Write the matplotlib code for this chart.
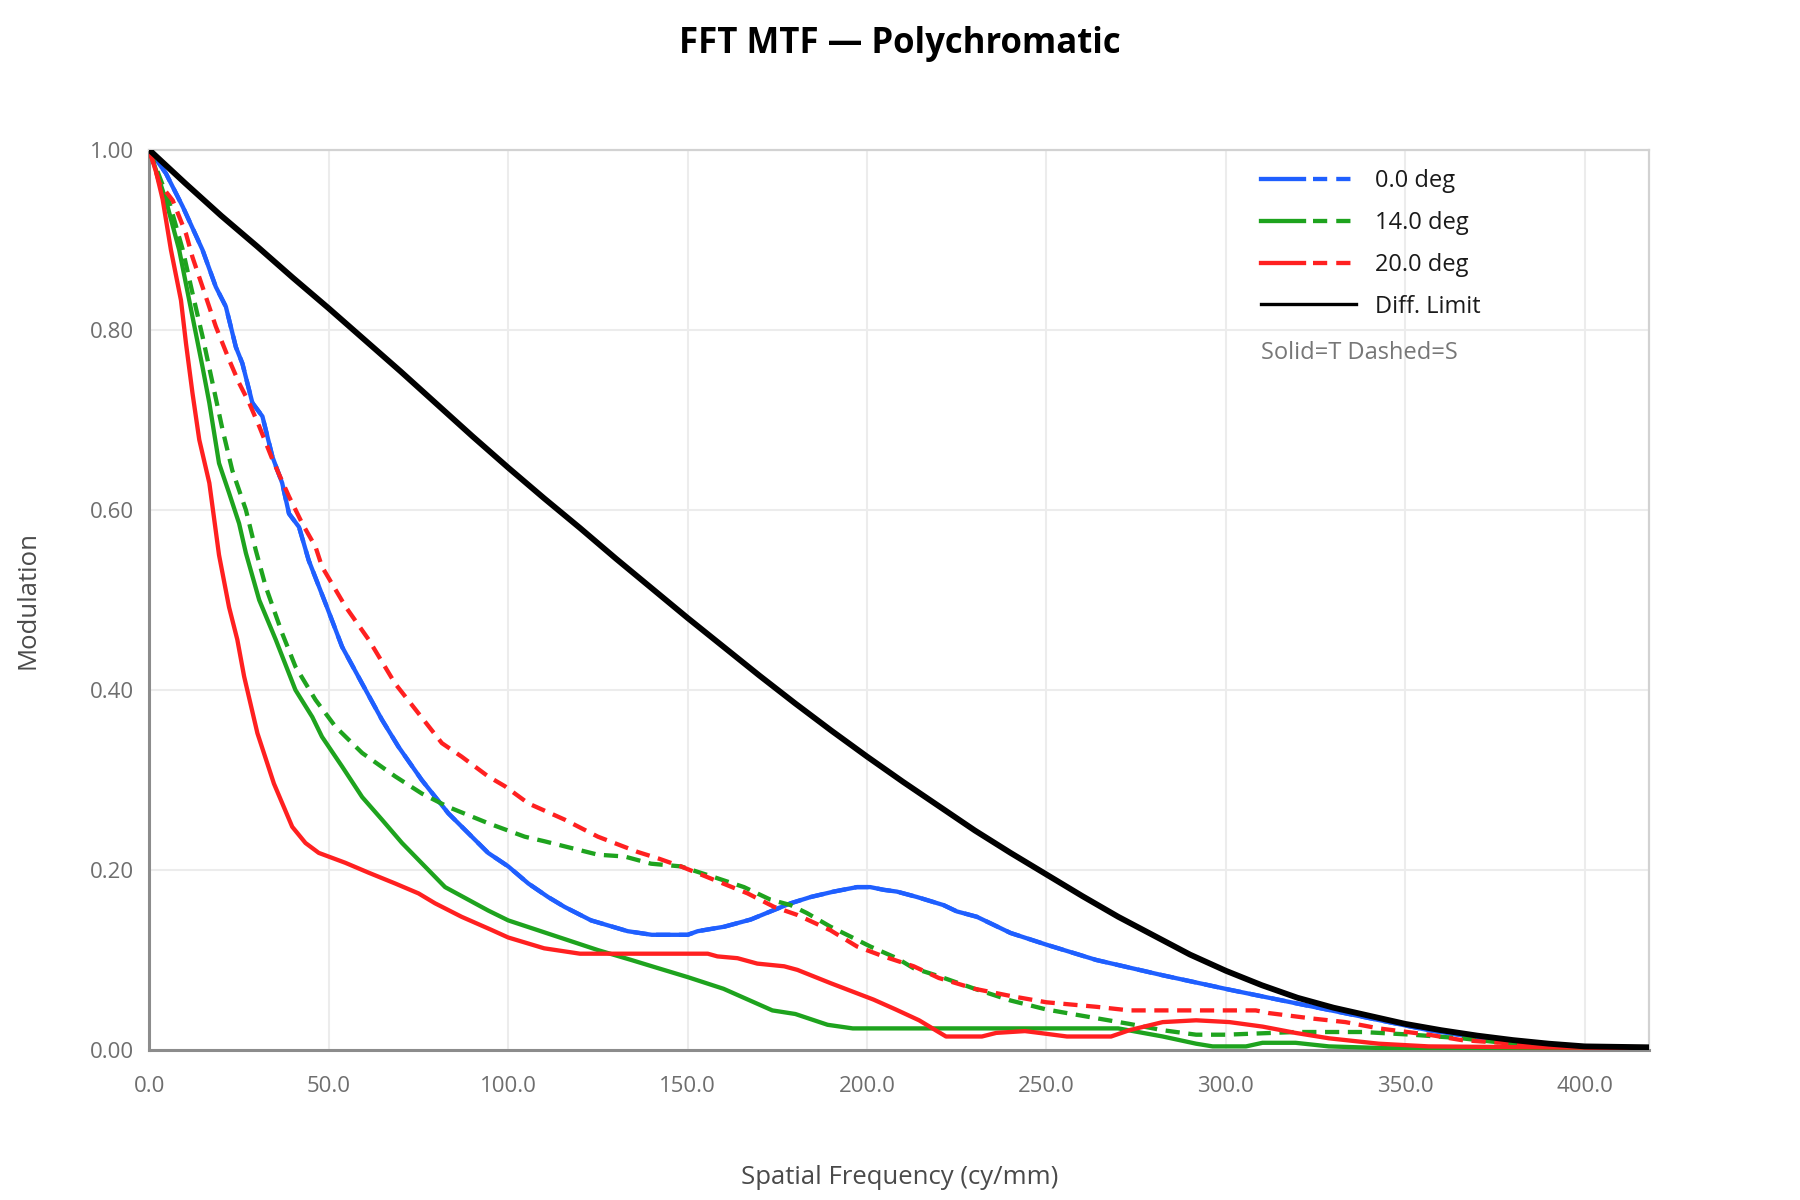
import matplotlib
matplotlib.use("Agg")
import matplotlib.pyplot as plt
from matplotlib.lines import Line2D
from matplotlib.legend_handler import HandlerTuple

plt.rcParams['font.family'] = ['Open Sans', 'DejaVu Sans']

# ---------------- data ----------------
diff_f = [0, 10, 20, 30, 40, 50, 60, 70, 80, 90, 100, 110, 120, 130, 140, 150, 160, 170,
          180, 190, 200, 210, 220, 230, 240, 250, 260, 270, 280, 290, 300, 310, 320, 330,
          340, 350, 360, 370, 380, 390, 400, 418]
diff_v = [1.0, 0.963, 0.927, 0.893, 0.858, 0.824, 0.789, 0.754, 0.718, 0.682, 0.647, 0.613,
          0.580, 0.546, 0.513, 0.480, 0.448, 0.416, 0.385, 0.355, 0.326, 0.298, 0.271, 0.244,
          0.219, 0.195, 0.171, 0.148, 0.127, 0.106, 0.088, 0.072, 0.058, 0.047, 0.038, 0.029,
          0.022, 0.016, 0.011, 0.007, 0.004, 0.003]

t00_f = [0, 4.6, 9.3, 14.8, 18.5, 21.3, 24.1, 25.9, 28.7, 31.5, 34.3, 37, 38.9, 41.7, 44.4,
         49.1, 53.7, 59.3, 64.8, 69.4, 75.9, 83.3, 94.4, 100, 105.6, 111.1, 115.7, 123.1,
         133.3, 140, 150, 152.8, 160.2, 167.6, 173.1, 178.7, 184.3, 190.7, 197.2, 200.9,
         204.6, 208.3, 213.9, 221.3, 225, 230.6, 240, 250, 263.9, 282.4, 301, 319.4, 338,
         356.5, 375, 388, 400, 418]
t00_v = [1.0, 0.974, 0.937, 0.889, 0.848, 0.826, 0.781, 0.763, 0.719, 0.704, 0.659, 0.630,
         0.596, 0.581, 0.544, 0.496, 0.448, 0.407, 0.367, 0.337, 0.300, 0.263, 0.219, 0.204,
         0.185, 0.170, 0.159, 0.144, 0.132, 0.128, 0.128, 0.132, 0.137, 0.145, 0.154, 0.163,
         0.170, 0.176, 0.181, 0.181, 0.178, 0.176, 0.170, 0.161, 0.154, 0.148, 0.130, 0.117,
         0.100, 0.083, 0.067, 0.052, 0.037, 0.022, 0.011, 0.004, 0.002, 0.001]
# on axis: sagittal coincides with tangential
s00_f = t00_f
s00_v = t00_v

t14_f = [0, 4.6, 8.3, 11.1, 14.8, 16.7, 19.4, 22.2, 25, 26.9, 30.6, 35.2, 40.7, 45.4, 48.1,
         53.7, 59.3, 64.8, 70.4, 82.4, 94.4, 100, 125, 134.3, 141.7, 150, 160, 173.6, 180,
         189, 196, 270, 282.4, 291.7, 296.3, 305.6, 310.2, 319.4, 328.7, 345, 418]
t14_v = [1.0, 0.944, 0.889, 0.833, 0.759, 0.719, 0.652, 0.619, 0.585, 0.552, 0.500, 0.456,
         0.400, 0.370, 0.348, 0.315, 0.281, 0.256, 0.230, 0.181, 0.155, 0.144, 0.111, 0.100,
         0.091, 0.081, 0.068, 0.044, 0.040, 0.028, 0.024, 0.024, 0.015, 0.007, 0.004, 0.004,
         0.008, 0.008, 0.004, 0.002, 0.001]

s14_f = [0, 5.6, 9.3, 12, 14.8, 17.6, 20.4, 23.1, 26.9, 29.6, 32.4, 37, 40.7, 46.3, 51.9,
         59.3, 68.5, 75.9, 83.3, 94.4, 104.6, 110, 125, 132.4, 139.8, 148.1, 157.4, 165.7,
         173.1, 178.7, 183.3, 189.8, 195.4, 200.9, 208.3, 212.9, 220, 230, 240, 250, 260,
         273.1, 282.4, 291.7, 300, 319.4, 338, 351.9, 365.7, 379.6, 400, 418]
s14_v = [1.0, 0.941, 0.889, 0.841, 0.793, 0.741, 0.689, 0.644, 0.600, 0.556, 0.515, 0.463,
         0.426, 0.389, 0.359, 0.330, 0.304, 0.285, 0.270, 0.252, 0.237, 0.232, 0.217, 0.215,
         0.207, 0.204, 0.192, 0.181, 0.167, 0.161, 0.152, 0.137, 0.126, 0.115, 0.102, 0.091,
         0.082, 0.068, 0.055, 0.045, 0.038, 0.029, 0.022, 0.017, 0.017, 0.020, 0.020, 0.017,
         0.013, 0.007, 0.003, 0.002]

t20_f = [0, 1.9, 3.7, 6, 8.8, 10.2, 12, 13.9, 16.7, 19.4, 22.2, 24.5, 26.4, 30.1, 34.7,
         39.8, 43.5, 47.2, 54.6, 61.1, 68.5, 75, 79.6, 87, 95, 100, 110, 120, 155.6, 158.3,
         163.9, 169.4, 176.9, 180.6, 190, 201.8, 208, 214.5, 222, 232, 236, 244, 248, 255.7,
         268, 273.1, 282.4, 291.7, 301, 310.2, 319.4, 328.7, 342.6, 356.5, 418]
t20_v = [1.0, 0.975, 0.945, 0.889, 0.833, 0.785, 0.730, 0.678, 0.630, 0.550, 0.492, 0.456,
         0.415, 0.352, 0.296, 0.248, 0.230, 0.219, 0.208, 0.197, 0.185, 0.174, 0.163, 0.148,
         0.134, 0.125, 0.113, 0.107, 0.107, 0.104, 0.102, 0.096, 0.093, 0.089, 0.074, 0.056,
         0.045, 0.033, 0.015, 0.015, 0.019, 0.021, 0.019, 0.015, 0.015, 0.022, 0.031, 0.033,
         0.031, 0.026, 0.019, 0.013, 0.007, 0.004, 0.002]

s20_f = [0, 2.8, 6.5, 10.2, 12, 14.8, 18.5, 22.2, 25, 27.8, 30.6, 34.3, 38.9, 42.6, 46.3,
         48.1, 54.6, 61.1, 68.5, 75, 81.5, 87, 94.4, 99.1, 105.6, 115.7, 125, 136.1, 141.7,
         148.1, 157.4, 166.7, 174.1, 180.6, 189.8, 197.2, 204.6, 213, 220, 230, 240, 250,
         263.9, 273.1, 308.3, 312, 324, 333.3, 342.6, 356.5, 365.7, 384.3, 400, 418]
s20_v = [1.0, 0.963, 0.944, 0.907, 0.881, 0.848, 0.804, 0.767, 0.741, 0.719, 0.693, 0.656,
         0.615, 0.585, 0.559, 0.537, 0.493, 0.456, 0.407, 0.374, 0.341, 0.326, 0.304, 0.293,
         0.274, 0.256, 0.237, 0.220, 0.213, 0.204, 0.189, 0.174, 0.159, 0.150, 0.133, 0.115,
         0.104, 0.093, 0.080, 0.068, 0.060, 0.053, 0.048, 0.044, 0.044, 0.041, 0.035, 0.031,
         0.024, 0.017, 0.011, 0.006, 0.003, 0.002]

field_labels = ["0.0 deg", "14.0 deg", "20.0 deg"]
field_colors = ["#1f5fff", "#1ea31e", "#ff2020"]
diff_label = "Diff. Limit"
note_text = "Solid=T Dashed=S"
title_text = "FFT MTF \u2014 Polychromatic"
x_label = "Spatial Frequency (cy/mm)"
y_label = "Modulation"
x_ticks = [0, 50, 100, 150, 200, 250, 300, 350, 400]
y_ticks = [0.0, 0.2, 0.4, 0.6, 0.8, 1.0]

# ---------------- figure ----------------
fig = plt.figure(figsize=(18, 12), dpi=100)
ax = fig.add_axes([0.083, 0.125, 0.8333, 0.75])

LW = 3.1
DASH = (3.3, 2.0)
series = [(t00_f, t00_v, s00_f, s00_v),
          (t14_f, t14_v, s14_f, s14_v),
          (t20_f, t20_v, s20_f, s20_v)]
handles = []
for (tf, tv, sf, sv), col in zip(series, field_colors):
    ax.plot(tf, tv, color=col, lw=LW, zorder=3)
    ax.plot(sf, sv, color=col, lw=LW, dashes=DASH, zorder=3)
    h_s = Line2D([], [], color=col, lw=LW)
    h_d = Line2D([], [], color=col, lw=LW, dashes=(3.3, 2.1))
    handles.append((h_s, h_d))
ax.plot(diff_f, diff_v, color='black', lw=4.2, zorder=4)
handles.append(Line2D([], [], color='black', lw=2.4))

ax.set_xlim(0, 418)
ax.set_ylim(0, 1.0)
ax.set_xticks(x_ticks)
ax.set_xticklabels([f"{t:.1f}" for t in x_ticks])
ax.set_yticks(y_ticks)
ax.set_yticklabels([f"{t:.2f}" for t in y_ticks])
ax.tick_params(axis='both', length=0, labelsize=16, labelcolor='#6e6e6e')
ax.tick_params(axis='x', pad=19)
ax.tick_params(axis='y', pad=11)
ax.grid(True, color='#ececec', lw=1.5, zorder=0)
ax.set_axisbelow(True)
for side in ['top', 'right']:
    ax.spines[side].set_color('#d2d2d2')
    ax.spines[side].set_linewidth(1.6)
for side in ['left', 'bottom']:
    ax.spines[side].set_color('#8c8c8c')
    ax.spines[side].set_linewidth(2.2)

leg = ax.legend(handles, field_labels + [diff_label],
                handler_map={tuple: HandlerTuple(ndivide=None, pad=0.36)},
                loc='upper left', bbox_to_anchor=(0.7413, 0.979), frameon=False,
                fontsize=17, handlelength=4.0, handletextpad=0.83,
                labelspacing=0.76, borderpad=0, borderaxespad=0)
for t in leg.get_texts():
    t.set_color('#1a1a1a')

ax.text(0.741, 0.774, note_text, transform=ax.transAxes, fontsize=17,
        color='#777777', ha='left', va='center')

fig.text(0.5, 0.963, title_text, ha='center', va='center', fontsize=25,
         fontweight='bold', color='black')
fig.text(0.5, 0.019, x_label, ha='center', va='center', fontsize=18.5, color='#4a4a4a')
fig.text(0.0156, 0.5, y_label, ha='center', va='center', rotation=90, fontsize=18.5,
         color='#4a4a4a')

fig.savefig("out.png", dpi=100)
